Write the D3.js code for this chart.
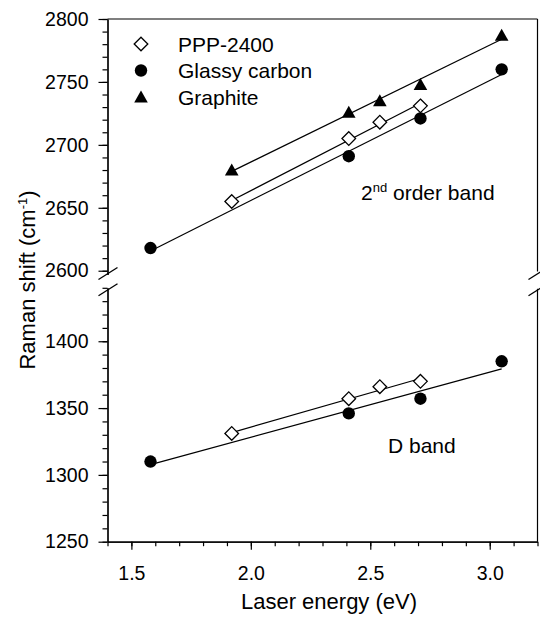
<!DOCTYPE html>
<html>
<head>
<meta charset="utf-8">
<script src="https://cdn.jsdelivr.net/npm/d3@7"></script>
<style>
  body { margin: 0; background: #fff; }
  svg { display: block; font-family: 'Liberation Sans', Arial, sans-serif; }
</style>
</head>
<body>
<div id="chart"></div>
<script>
// laser energies (eV)
const energyGlassy = [1.58, 2.41, 2.71, 3.05];
const energyPPP = [1.92, 2.41, 2.54, 2.71];
const energyGraphite = [1.92, 2.41, 2.54, 2.71, 3.05];

// 2nd order band (cm-1)
const glassy2nd = [2618, 2691, 2721, 2760];
const ppp2nd = [2655, 2705, 2718, 2731];
const graphite2nd = [2680, 2726, 2735, 2748, 2787];

// D band (cm-1)
const glassyD = [1310, 1346, 1357, 1385];
const pppD = [1331, 1357, 1366, 1370];

const seriesNames = ['PPP-2400', 'Glassy carbon', 'Graphite'];
const xTicks = [1.5, 2.0, 2.5, 3.0];
const upperTicks = [2600, 2650, 2700, 2750, 2800];
const lowerTicks = [1250, 1300, 1350, 1400];

const width = 540;
const height = 621;

const svg = d3.select('#chart')
  .append('svg')
  .attr('width', width)
  .attr('height', height);

const x = d3.scaleLinear().domain([1.4, 3.2]).range([107.5, 537.5]);
const yUp = d3.scaleLinear().domain([2597, 2800]).range([274.5, 19]);
const yLow = d3.scaleLinear().domain([1250, 1440]).range([541.7, 287.8]);

// least squares fit line over the series range
function fitLine(xs, ys) {
  const n = xs.length;
  const mx = d3.mean(xs), my = d3.mean(ys);
  let sxy = 0, sxx = 0;
  for (let i = 0; i < n; i++) {
    sxy += (xs[i] - mx) * (ys[i] - my);
    sxx += (xs[i] - mx) * (xs[i] - mx);
  }
  const b = sxy / sxx;
  const a = my - b * mx;
  const x0 = d3.min(xs), x1 = d3.max(xs);
  return [[x0, a + b * x0], [x1, a + b * x1]];
}

const tickFont = '19.5px';

// ---- axes ----
function styleAxis(g) {
  g.selectAll('path, line').attr('stroke', '#000').attr('stroke-width', 1.2);
  g.selectAll('text').attr('fill', '#000').style('font-size', tickFont)
    .style('font-family', "'Liberation Sans', Arial, sans-serif");
}

// x axis
svg.append('g')
  .attr('transform', `translate(0,${yLow.range()[0]})`)
  .call(d3.axisBottom(x).tickValues(d3.range(14, 33).map((d) => d / 10))
    .tickSizeInner(4.5).tickSizeOuter(0).tickFormat(''))
  .call(styleAxis);
svg.append('g')
  .attr('transform', `translate(0,${yLow.range()[0]})`)
  .call(d3.axisBottom(x).tickValues(xTicks)
    .tickSizeInner(8).tickSizeOuter(0).tickPadding(16).tickFormat(d3.format('.1f')))
  .call(styleAxis);

// left axis upper
svg.append('g')
  .attr('transform', `translate(${x.range()[0]},0)`)
  .call(d3.axisLeft(yUp).tickValues(d3.range(2600, 2801, 10))
    .tickSizeInner(5).tickSizeOuter(0).tickFormat(''))
  .call(styleAxis);
svg.append('g')
  .attr('transform', `translate(${x.range()[0]},0)`)
  .call(d3.axisLeft(yUp).tickValues(upperTicks)
    .tickSizeInner(9).tickSizeOuter(0).tickPadding(10).tickFormat(d3.format('d')))
  .call(styleAxis);

// left axis lower
svg.append('g')
  .attr('transform', `translate(${x.range()[0]},0)`)
  .call(d3.axisLeft(yLow).tickValues(d3.range(1250, 1441, 10))
    .tickSizeInner(5).tickSizeOuter(0).tickFormat(''))
  .call(styleAxis);
svg.append('g')
  .attr('transform', `translate(${x.range()[0]},0)`)
  .call(d3.axisLeft(yLow).tickValues(lowerTicks)
    .tickSizeInner(9).tickSizeOuter(0).tickPadding(10).tickFormat(d3.format('d')))
  .call(styleAxis);

// frame: top and right
const frame = svg.append('g').attr('stroke', '#000').attr('stroke-width', 1.2).attr('fill', 'none');
frame.append('line')
  .attr('x1', x.range()[0]).attr('x2', x.range()[1])
  .attr('y1', yUp.range()[1]).attr('y2', yUp.range()[1]);
frame.append('line')
  .attr('x1', x.range()[1]).attr('x2', x.range()[1])
  .attr('y1', yUp.range()[1]).attr('y2', yUp.range()[0] - 3);
frame.append('line')
  .attr('x1', x.range()[1]).attr('x2', x.range()[1])
  .attr('y1', yLow.range()[1] + 1).attr('y2', yLow.range()[0]);

// axis break marks
[x.range()[0], x.range()[1]].forEach((bx) => {
  [yUp.range()[0] - 1, yLow.range()[1] + 2].forEach((by) => {
    frame.append('line')
      .attr('x1', bx - 9).attr('y1', by + 6)
      .attr('x2', bx + 10).attr('y2', by - 6)
      .attr('stroke-width', 1.3);
  });
});

// ---- data ----
const plot = svg.append('g');

function drawLine(xs, ys, y) {
  plot.append('path')
    .datum(fitLine(xs, ys))
    .attr('d', d3.line().x((d) => x(d[0])).y((d) => y(d[1])))
    .attr('stroke', '#000')
    .attr('stroke-width', 1.2)
    .attr('fill', 'none');
}

const sym = {
  diamond: (g) => g.append('path').attr('d', 'M0,-6.8L6.8,0L0,6.8L-6.8,0Z')
    .attr('fill', '#fff').attr('stroke', '#000').attr('stroke-width', 1.3),
  circle: (g) => g.append('circle').attr('r', 6.2).attr('fill', '#000'),
  triangle: (g) => g.append('path').attr('d', 'M0,-6.5L6.8,5.5L-6.8,5.5Z').attr('fill', '#000'),
};

function drawPoints(xs, ys, y, shape) {
  xs.forEach((e, i) => {
    const g = plot.append('g').attr('transform', `translate(${x(e)},${y(ys[i])})`);
    sym[shape](g);
  });
}

drawLine(energyGraphite, graphite2nd, yUp);
drawLine(energyGlassy, glassy2nd, yUp);
drawLine(energyPPP, ppp2nd, yUp);
drawLine(energyGlassy, glassyD, yLow);
drawLine(energyPPP, pppD, yLow);

drawPoints(energyGraphite, graphite2nd, yUp, 'triangle');
drawPoints(energyGlassy, glassy2nd, yUp, 'circle');
drawPoints(energyPPP, ppp2nd, yUp, 'diamond');
drawPoints(energyGlassy, glassyD, yLow, 'circle');
drawPoints(energyPPP, pppD, yLow, 'diamond');

// ---- legend ----
const shapes = ['diamond', 'circle', 'triangle'];
seriesNames.forEach((name, i) => {
  const cy = 44 + i * 26.5;
  const g = svg.append('g').attr('transform', `translate(141,${cy})`);
  sym[shapes[i]](g);
  svg.append('text')
    .attr('x', 178).attr('y', cy + 7.5)
    .style('font-size', '21px')
    .text(name);
});

// ---- annotations ----
const t2 = svg.append('text').attr('x', 361).attr('y', 200).style('font-size', '21px');
t2.append('tspan').text('2');
t2.append('tspan').attr('dy', -8).style('font-size', '13px').text('nd');
t2.append('tspan').attr('dy', 8).text(' order band');

svg.append('text').attr('x', 388).attr('y', 453).style('font-size', '21px').text('D band');

// axis titles
svg.append('text')
  .attr('x', 329).attr('y', 609)
  .attr('text-anchor', 'middle')
  .style('font-size', '22px')
  .text('Laser energy (eV)');

const yt = svg.append('text')
  .attr('transform', 'rotate(-90)')
  .attr('x', -280).attr('y', 35)
  .attr('text-anchor', 'middle')
  .style('font-size', '22px');
yt.append('tspan').text('Raman shift (cm');
yt.append('tspan').attr('dy', -8).style('font-size', '13px').text('-1');
yt.append('tspan').attr('dy', 8).text(')');
</script>
</body>
</html>
